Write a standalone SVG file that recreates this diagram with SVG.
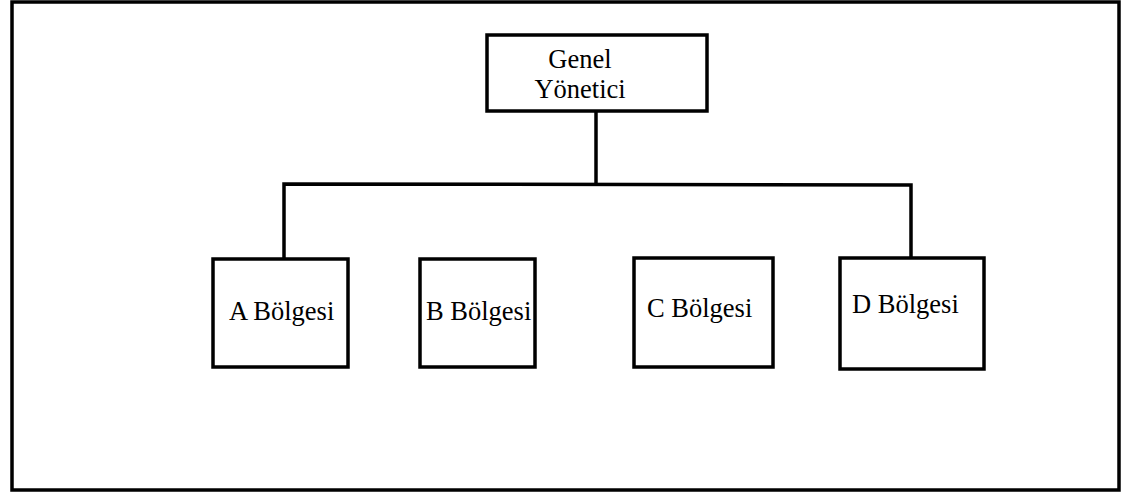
<svg xmlns="http://www.w3.org/2000/svg" width="1132" height="493" viewBox="0 0 1132 493">
<style>
.box{fill:#fff;stroke:#000;stroke-width:3.5}
.ln{fill:none;stroke:#000;stroke-width:3.5;stroke-linecap:square}
.t{font-family:"Liberation Serif","Times New Roman",serif;font-size:26.5px;fill:#000}
</style>
<rect x="0" y="0" width="1132" height="493" fill="#fff"/>
<rect id="frame" x="12" y="2" width="1107" height="488" fill="none" stroke="#000" stroke-width="3.5"/>
<g id="connectors">
<line class="ln" x1="596" y1="111" x2="596" y2="184"/>
<polyline class="ln" points="284,259 284,184 911,185 911,258"/>
</g>
<g id="genel">
<rect class="box" x="487" y="35" width="220" height="76"/>
<text class="t" x="580" y="68" text-anchor="middle">Genel</text>
<text class="t" x="580" y="98" text-anchor="middle">Yönetici</text>
</g>
<g id="a">
<rect class="box" x="213" y="259" width="135" height="108"/>
<text class="t" x="229" y="320">A Bölgesi</text>
</g>
<g id="b">
<rect class="box" x="420" y="259" width="115" height="108"/>
<text class="t" x="426" y="320">B Bölgesi</text>
</g>
<g id="c">
<rect class="box" x="634" y="258" width="139" height="109"/>
<text class="t" x="647" y="317">C Bölgesi</text>
</g>
<g id="d">
<rect class="box" x="840" y="258" width="144" height="111"/>
<text class="t" x="852" y="313">D Bölgesi</text>
</g>
</svg>
